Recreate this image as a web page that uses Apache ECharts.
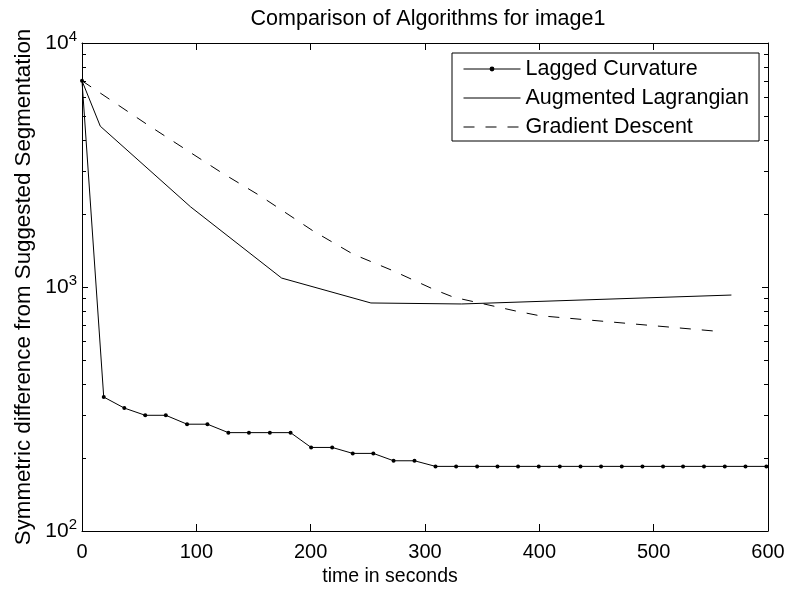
<!DOCTYPE html>
<html><head><meta charset="utf-8">
<script src="https://cdn.jsdelivr.net/npm/echarts@6/dist/echarts.min.js"></script>
<style>html,body{margin:0;padding:0;background:#fff}#c{width:791px;height:592px}</style>
</head><body><div id="c"></div>
<script>
const FONT = '"Liberation Sans", Arial, Helvetica, sans-serif';
const titleText = 'Comparison of Algorithms for image1';
const xAxisName = 'time in seconds';
const yAxisName = 'Symmetric difference from Suggested Segmentation';
const seriesNames = ['Lagged Curvature', 'Augmented Lagrangian', 'Gradient Descent'];

const lagTime = [0, 19.0, 37.0, 55.3, 73.3, 91.9, 109.7, 128.0, 146.0, 164.3, 182.4, 200.4, 218.8, 236.8,
  254.8, 272.5, 290.8, 309.2, 327.2, 345.6, 363.4, 381.4, 399.5, 417.9, 436.0, 454.0, 472.1, 490.2,
  508.2, 525.7, 544.0, 562.2, 580.3, 598.6];
const lagValue = [7000, 354, 319, 298, 298, 274, 274, 253, 253, 253, 253, 220, 220, 208,
  208, 194, 194, 184, 184, 184, 184, 184, 184, 184, 184, 184, 184, 184,
  184, 184, 184, 184, 184, 184];

const alTime = [0, 16, 95, 174.6, 252.7, 332, 568];
const alValue = [7000, 4560, 2130, 1088, 860, 852, 927];

const gdTime = [0, 57, 122, 156, 202, 237, 272, 307, 325, 380, 400, 553];
const gdValue = [7000, 4634, 2943, 2361, 1699, 1364, 1166, 981, 908, 796, 763, 660];

const yMinorTicks = [200, 300, 400, 500, 600, 700, 800, 900, 2000, 3000, 4000, 5000, 6000, 7000, 8000, 9000];

const pair = (xs, ys) => xs.map((x, i) => [x, ys[i]]);
const chart = echarts.init(document.getElementById('c'), null, { renderer: 'canvas' });

const axisLine = { show: true, onZero: false, lineStyle: { color: '#000', width: 1 } };
const dash = [11, 11];
const option = {
  backgroundColor: '#fff',
  animation: false,
  textStyle: { fontFamily: FONT, color: '#000' },
  title: {
    text: titleText, left: 423, top: 3, textAlign: 'center',
    textStyle: { fontFamily: FONT, fontSize: 21.5, fontWeight: 'normal', color: '#000' }
  },
  grid: { left: 82, right: 23, top: 43, bottom: 59, containLabel: false },
  legend: {
    orient: 'vertical', left: 452, top: 53, align: 'left',
    itemWidth: 57, itemHeight: 6, itemGap: 7,
    padding: [5, 10, 3, 11],
    borderColor: '#000', borderWidth: 1, backgroundColor: '#fff',
    selectedMode: false,
    lineStyle: { width: 1 },
    textStyle: { fontFamily: FONT, fontSize: 21.5, color: '#000', lineHeight: 22 },
    data: [
      { name: seriesNames[0] },
      { name: seriesNames[1], itemStyle: { opacity: 0 } },
      { name: seriesNames[2], itemStyle: { opacity: 0 } }
    ]
  },
  xAxis: [
    { type: 'value', min: 0, max: 600, interval: 100, position: 'bottom',
      name: xAxisName, nameLocation: 'middle', nameGap: 36,
      nameTextStyle: { fontFamily: FONT, fontSize: 19.5, color: '#000', padding: [0, 70, 0, 0] },
      axisLine, axisTick: { show: true, inside: true, length: 7, lineStyle: { color: '#000' } },
      axisLabel: { fontFamily: FONT, fontSize: 20, color: '#000', margin: 11 },
      splitLine: { show: false } },
    { type: 'value', min: 0, max: 600, interval: 100, position: 'top',
      axisLine, axisTick: { show: true, inside: true, length: 7, lineStyle: { color: '#000' } },
      axisLabel: { show: false }, splitLine: { show: false } }
  ],
  yAxis: [
    { type: 'log', logBase: 10, min: 100, max: 10000, splitNumber: 2, position: 'left',
      name: yAxisName, nameLocation: 'middle', nameGap: 47,
      nameTextStyle: { fontFamily: FONT, fontSize: 22.3, color: '#000' },
      axisLine, axisTick: { show: true, inside: true, length: 6, lineStyle: { color: '#000' } },
      axisLabel: {
        margin: 5, color: '#000',
        formatter: v => '{b|10}{s|' + Math.round(Math.log10(v)) + '}',
        rich: {
          b: { fontFamily: FONT, fontSize: 21, color: '#000', lineHeight: 27 },
          s: { fontFamily: FONT, fontSize: 15, color: '#000', verticalAlign: 'top', lineHeight: 16 }
        }
      },
      splitLine: { show: false } },
    { type: 'log', logBase: 10, min: 100, max: 10000, splitNumber: 2, position: 'right',
      axisLine, axisTick: { show: true, inside: true, length: 6, lineStyle: { color: '#000' } },
      axisLabel: { show: false }, splitLine: { show: false } }
  ],
  series: [
    { name: seriesNames[0], type: 'line', data: pair(lagTime, lagValue),
      symbol: 'circle', symbolSize: 4, showSymbol: true,
      itemStyle: { color: '#000' }, lineStyle: { color: '#000', width: 1 }, z: 5 },
    { name: seriesNames[1], type: 'line', data: pair(alTime, alValue),
      symbol: 'none', itemStyle: { color: '#000' }, lineStyle: { color: '#000', width: 1 }, z: 4 },
    { name: seriesNames[2], type: 'line', data: pair(gdTime, gdValue),
      symbol: 'none', itemStyle: { color: '#000' }, lineStyle: { color: '#000', width: 1, type: dash }, z: 4 },
    { type: 'custom', silent: true, z: 6, clip: false,
      data: yMinorTicks.map(v => [0, v]),
      encode: { x: 0, y: 1 },
      renderItem: (params, api) => {
        const v = api.value(1);
        const l = api.coord([0, v]);
        const r = api.coord([600, v]);
        const y = Math.round(l[1]) + 0.5;
        return { type: 'group', children: [
          { type: 'line', shape: { x1: l[0], y1: y, x2: l[0] + 4, y2: y }, style: { stroke: '#000', lineWidth: 1 } },
          { type: 'line', shape: { x1: r[0] - 4, y1: y, x2: r[0], y2: y }, style: { stroke: '#000', lineWidth: 1 } }
        ] };
      } }
  ]
};
chart.setOption(option);
</script>
</body></html>
